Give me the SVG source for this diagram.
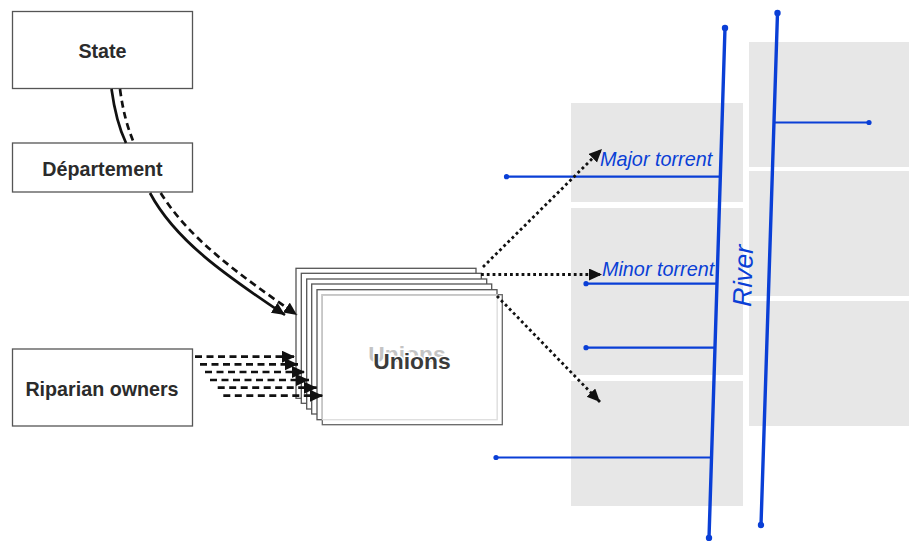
<svg xmlns="http://www.w3.org/2000/svg" width="909" height="541" viewBox="0 0 909 541">
<style>
.box{fill:#fff;stroke:#555;stroke-width:1.3}
.lbl{font-family:"Liberation Sans",Arial,sans-serif;font-size:19.7px;font-weight:700;fill:#2b2b2b;text-anchor:middle}
.zone{fill:#e7e7e7}
.riv{fill:none;stroke:#0a3fd6;stroke-width:3.4;stroke-linecap:round}
.trib{fill:none;stroke:#0a3fd6;stroke-width:2.2;stroke-linecap:round}
.dot{fill:#0a3fd6}
.blue{font-family:"Liberation Sans",Arial,sans-serif;font-style:italic;fill:#0a3fd6}
.solid{fill:none;stroke:#111;stroke-width:2.7}
.dash{fill:none;stroke:#111;stroke-width:2.7;stroke-dasharray:7 4.500}
.dotted{fill:none;stroke:#111;stroke-width:2.8;stroke-dasharray:2.800 3}
</style>
<defs>
<marker id="arr" markerUnits="userSpaceOnUse" markerWidth="15" markerHeight="13" refX="13" refY="6" orient="auto"><path d="M0 0L13 6L0 12Z" fill="#111"/></marker>
</defs>
<rect width="909" height="541" fill="#fff"/>
<g id="zones">
<rect class="zone" x="571" y="103" width="172" height="99"/>
<rect class="zone" x="571" y="208" width="172" height="167"/>
<rect class="zone" x="571" y="381" width="172" height="125"/>
<rect class="zone" x="749" y="42" width="160" height="125"/>
<rect class="zone" x="749" y="171" width="160" height="125"/>
<rect class="zone" x="749" y="301" width="160" height="125"/>
</g>
<g id="state"><rect class="box" x="12.500" y="11.500" width="180" height="77"/><text class="lbl" x="102.500" y="58">State</text></g>
<g id="departement"><rect class="box" x="12.500" y="143" width="180" height="49"/><text class="lbl" x="102.500" y="176">Département</text></g>
<g id="riparian"><rect class="box" x="12.500" y="349" width="180" height="77"/><text class="lbl" x="102" y="396">Riparian owners</text></g>
<g id="unions">
<rect class="box" x="296" y="268.300" width="180" height="130"/>
<rect class="box" x="301.300" y="273.300" width="180" height="130"/>
<rect class="box" x="306.700" y="279" width="180" height="130"/>
<rect class="box" x="311.700" y="284" width="180" height="130"/>
<rect class="box" x="317" y="289.700" width="180" height="130"/>
<rect x="322.300" y="294.700" width="180" height="130" fill="#fff" fill-opacity=".88" stroke="#666" stroke-width="1.300"/>
<rect x="322.300" y="294.700" width="175" height="125" fill="none" stroke="#ddd" stroke-width="1"/>
<text class="lbl" x="407" y="362" style="font-size:22.800px;font-weight:700;fill:#c4c4c4">Unions</text>
<text class="lbl" x="412" y="369" style="font-size:22.800px;fill:#3a3a3a;stroke:#fff;stroke-width:3;paint-order:stroke">Unions</text>
</g>
<g id="river">
<path class="riv" d="M725 28L709 538"/>
<path class="riv" d="M777.500 13L761 525"/>
<circle class="dot" cx="725" cy="28" r="3.200"/><circle class="dot" cx="709" cy="538" r="3.200"/>
<circle class="dot" cx="777.500" cy="13" r="3.200"/><circle class="dot" cx="761" cy="525" r="3.200"/>
<path class="trib" d="M506.500 176.700H720M586 283.700H716M586 347.700H714M496 457.500H710M775 122.500H869"/>
<circle class="dot" cx="506.500" cy="176.700" r="2.600"/><circle class="dot" cx="586" cy="283.700" r="2.600"/><circle class="dot" cx="586" cy="347.700" r="2.600"/><circle class="dot" cx="496" cy="457.500" r="2.600"/><circle class="dot" cx="869" cy="122.500" r="2.600"/>
<text class="blue" x="600" y="166" font-size="19.800">Major torrent</text>
<text class="blue" x="602" y="275.500" font-size="19.800">Minor torrent</text>
<text class="blue" font-size="26.500" transform="translate(751 307) rotate(-88)">River</text>
</g>
<g id="connectors">
<path class="solid" d="M111.500 89Q116 122 126 143"/>
<path class="dash" d="M120 89Q124 120 134 143"/>
<path class="solid" marker-end="url(#arr)" d="M150 193C175 240 225 275 285 315"/>
<path class="dash" marker-end="url(#arr)" d="M160.700 193C190 240 240 275 297 315"/>
<path class="dash" marker-end="url(#arr)" d="M195 356.700H295"/>
<path class="dash" marker-end="url(#arr)" d="M200 364.300H298"/>
<path class="dash" marker-end="url(#arr)" d="M205 372H305"/>
<path class="dash" marker-end="url(#arr)" d="M210 380H309"/>
<path class="dash" marker-end="url(#arr)" d="M217.700 387.700H317"/>
<path class="dash" marker-end="url(#arr)" d="M223.300 395.700H323"/>
<path class="dotted" marker-end="url(#arr)" d="M483 267L602 149"/>
<path class="dotted" marker-end="url(#arr)" d="M481 274.500H602"/>
<path class="dotted" marker-end="url(#arr)" d="M497 296L600 402"/>
</g>
</svg>
